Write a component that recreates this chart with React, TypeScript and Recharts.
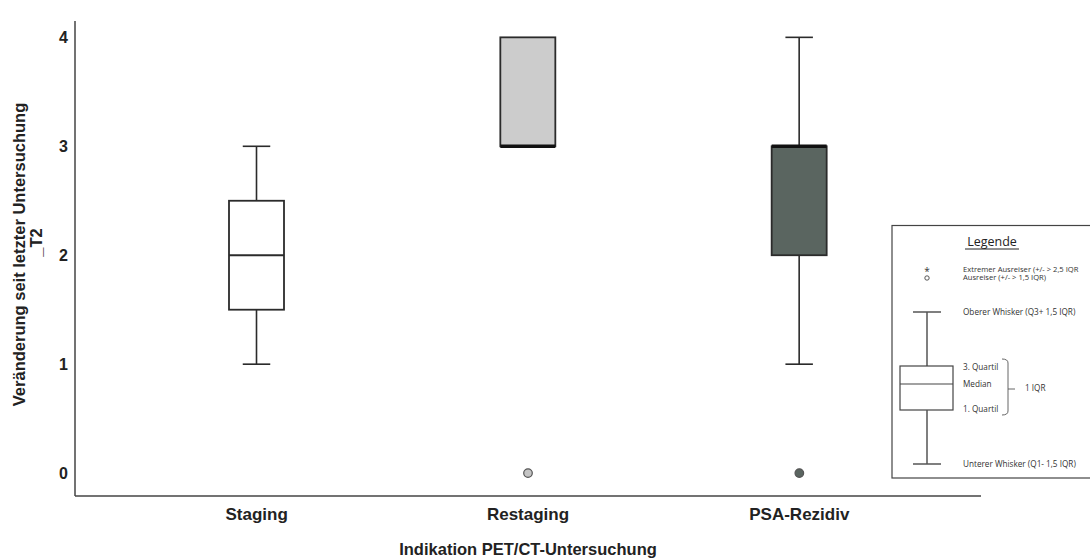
import React from "react";
import {
  ComposedChart,
  Bar,
  Scatter,
  XAxis,
  YAxis,
} from "recharts";

// Boxplot summary per indication
const categories = ["Staging", "Restaging", "PSA-Rezidiv"];
const lowerWhisker = [1, 3, 1];
const quartile1 = [1.5, 3, 2];
const medians = [2, 3, 3];
const quartile3 = [2.5, 4, 3];
const upperWhisker = [3, 4, 4];
const outliers: (number | null)[] = [null, 0, 0];
const boxFills = ["#ffffff", "#cccccc", "#5a6560"];
const outlierFills = ["#ffffff", "#c4c4c4", "#5a6560"];
const yTicks = [0, 1, 2, 3, 4];

const rows = categories.map((name, i) => ({
  name,
  range: [lowerWhisker[i], upperWhisker[i]],
  lo: lowerWhisker[i],
  q1: quartile1[i],
  median: medians[i],
  q3: quartile3[i],
  hi: upperWhisker[i],
  outlier: outliers[i],
  fill: boxFills[i],
  outlierFill: outlierFills[i],
}));

const LINE = "#2b2b2b";
const AXIS_FONT = "'Liberation Sans', Arial, sans-serif";

// draws whiskers, box and median inside the bar's [lo, hi] span
const BoxShape = (props: any) => {
  const { x, y, width, height, payload } = props;
  const top = Math.min(y, y + height);
  const bottom = Math.max(y, y + height);
  const { lo, q1, median, q3, hi, fill } = payload;
  const toPx = (v: number) => bottom - ((v - lo) / (hi - lo)) * (bottom - top);
  const cx = x + width / 2;
  const capHalf = width / 4;
  const medianOnEdge = median === q1 || median === q3;
  return (
    <g>
      {hi > q3 && (
        <>
          <line x1={cx} x2={cx} y1={toPx(hi)} y2={toPx(q3)} stroke={LINE} strokeWidth={1.6} />
          <line x1={cx - capHalf} x2={cx + capHalf} y1={toPx(hi)} y2={toPx(hi)} stroke={LINE} strokeWidth={1.6} />
        </>
      )}
      {lo < q1 && (
        <>
          <line x1={cx} x2={cx} y1={toPx(q1)} y2={toPx(lo)} stroke={LINE} strokeWidth={1.6} />
          <line x1={cx - capHalf} x2={cx + capHalf} y1={toPx(lo)} y2={toPx(lo)} stroke={LINE} strokeWidth={1.6} />
        </>
      )}
      <rect
        x={x}
        y={toPx(q3)}
        width={width}
        height={toPx(q1) - toPx(q3)}
        fill={fill}
        stroke={LINE}
        strokeWidth={1.8}
      />
      <line
        x1={x}
        x2={x + width}
        y1={toPx(median)}
        y2={toPx(median)}
        stroke={medianOnEdge ? "#111" : LINE}
        strokeWidth={medianOnEdge ? 3.5 : 1.8}
      />
    </g>
  );
};

const OutlierShape = (props: any) => {
  const { cx, cy, payload } = props;
  if (payload.outlier == null || !isFinite(cy)) return <g />;
  return <circle cx={cx} cy={cy} r={4.3} fill={payload.outlierFill} stroke="#555" strokeWidth={1.2} />;
};

const YTitle = (props: any) => {
  const vb = props.viewBox || {};
  const cy = vb.y + vb.height / 2 - 4;
  return (
    <g fontFamily={AXIS_FONT} fontWeight="bold" fontSize={16.5} fill="#222">
      <text x={25} y={cy} transform={`rotate(-90, 25, ${cy})`} textAnchor="middle">
        Veränderung seit letzter Untersuchung
      </text>
      <text x={42} y={cy - 12} transform={`rotate(-90, 42, ${cy - 12})`} textAnchor="middle">
        _T2
      </text>
    </g>
  );
};

const XTitle = (props: any) => {
  const vb = props.viewBox || {};
  return (
    <text
      x={vb.x + vb.width / 2}
      y={555}
      textAnchor="middle"
      fontFamily={AXIS_FONT}
      fontWeight="bold"
      fontSize={16.5}
      fill="#222"
    >
      Indikation PET/CT-Untersuchung
    </text>
  );
};

// explanatory boxplot key on the right
const KeyPanel = () => {
  const t = { fontFamily: "'Open Sans', 'Liberation Sans', sans-serif", fontSize: 8.2, fill: "#333" };
  return (
    <svg
      width={1090}
      height={559}
      style={{ position: "absolute", left: 0, top: 0, pointerEvents: "none" }}
    >
      <rect x={892} y={225.5} width={205} height={252.5} fill="#fff" stroke="#444" strokeWidth={1.2} />
      <text x={992} y={246} textAnchor="middle" fontFamily="'Open Sans', sans-serif" fontSize={12.5} fill="#222">
        Legende
      </text>
      <line x1={965} x2={1019} y1={249} y2={249} stroke="#222" strokeWidth={1} />
      <text x={927} y={275} textAnchor="middle" {...t} fontSize={10}>*</text>
      <circle cx={927} cy={278} r={2.2} fill="none" stroke="#444" strokeWidth={0.9} />
      <text x={963} y={271.5} {...t} fontSize={7.6}>Extremer Ausreiser (+/- &gt; 2,5 IQR</text>
      <text x={963} y={279.5} {...t} fontSize={7.6}>Ausreiser (+/- &gt; 1,5 IQR)</text>

      <line x1={913} x2={941} y1={312} y2={312} stroke="#555" strokeWidth={1.5} />
      <line x1={927} x2={927} y1={312} y2={366} stroke="#555" strokeWidth={1.5} />
      <rect x={900} y={366} width={53} height={44} fill="#fff" stroke="#444" strokeWidth={1.2} />
      <line x1={900} x2={953} y1={384} y2={384} stroke="#444" strokeWidth={1.2} />
      <line x1={927} x2={927} y1={410} y2={464} stroke="#555" strokeWidth={1.5} />
      <line x1={913} x2={941} y1={464} y2={464} stroke="#555" strokeWidth={1.5} />

      <text x={963} y={315} {...t}>Oberer Whisker (Q3+ 1,5 IQR)</text>
      <text x={963} y={370} {...t}>3. Quartil</text>
      <text x={963} y={387} {...t}>Median</text>
      <text x={963} y={412} {...t}>1. Quartil</text>
      <path d="M1002 359 Q1008 359 1008 363 L1008 411 Q1008 415 1002 415" fill="none" stroke="#555" strokeWidth={0.9} />
      <line x1={1008} x2={1015} y1={389} y2={389} stroke="#555" strokeWidth={0.9} />
      <text x={1025} y={391} {...t}>1 IQR</text>
      <text x={963} y={467} {...t}>Unterer Whisker (Q1- 1,5 IQR)</text>
    </svg>
  );
};

export default function App() {
  return (
    <div style={{ position: "absolute", left: 0, top: 0, width: 1090, height: 559, background: "#fff" }}>
      <ComposedChart
        width={1090}
        height={559}
        data={rows}
        margin={{ top: 21, right: 109, bottom: 23, left: 35 }}
      >
        <XAxis
          dataKey="name"
          type="category"
          height={40}
          padding={{ left: 46, right: 46 }}
          tickLine={false}
          tickSize={0}
          tickMargin={12}
          axisLine={{ stroke: "#444", strokeWidth: 1.5 }}
          tick={{ fontFamily: AXIS_FONT, fontWeight: "bold", fontSize: 17, fill: "#222" }}
          label={{ content: (p: any) => <XTitle {...p} /> }}
        />
        <YAxis
          type="number"
          width={40}
          domain={[-0.21, 4.15]}
          ticks={yTicks}
          tickLine={false}
          tickSize={0}
          tickMargin={7}
          axisLine={{ stroke: "#444", strokeWidth: 1.5 }}
          tick={{ fontFamily: AXIS_FONT, fontWeight: "bold", fontSize: 16, fill: "#222" }}
          label={{ content: (p: any) => <YTitle {...p} /> }}
        />
        <Bar dataKey="range" barSize={55} shape={<BoxShape />} isAnimationActive={false} />
        <Scatter dataKey="outlier" shape={<OutlierShape />} isAnimationActive={false} />
      </ComposedChart>
      <KeyPanel />
    </div>
  );
}
